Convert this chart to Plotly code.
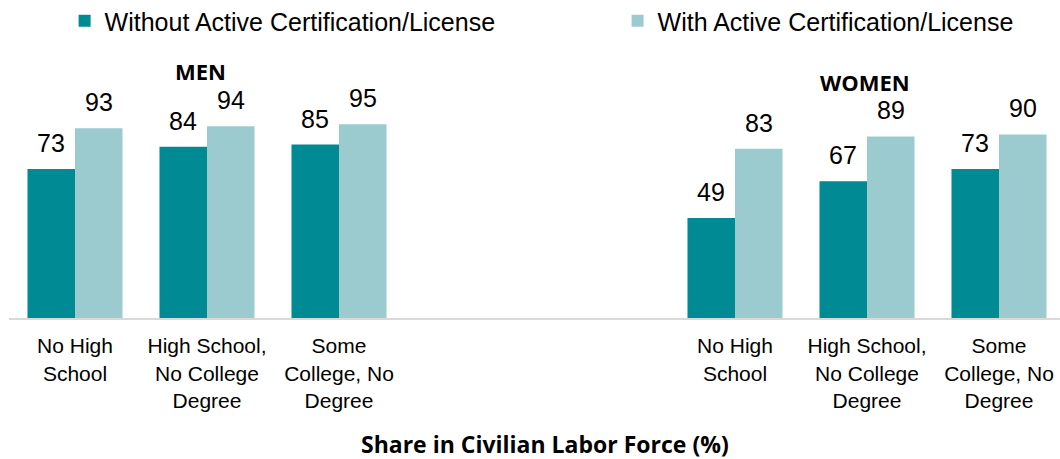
import plotly.graph_objects as go

positions = [0, 1, 2, 5, 6, 7]
tick_labels = ["No High<br>School", "High School,<br>No College<br>Degree", "Some<br>College, No<br>Degree",
               "No High<br>School", "High School,<br>No College<br>Degree", "Some<br>College, No<br>Degree"]
without_cert = [73, 84, 85, 49, 67, 73]
with_cert = [93, 94, 95, 83, 89, 90]
series_names = ["Without Active Certification/License", "With Active Certification/License"]
colors = ["#008A94", "#9BCBCF"]
legend_ids = ["legend", "legend2"]

W, H = 1060, 459
ml, mr, mt, mb = 9, 0, 114, 141
pw, ph = W - ml - mr, H - mt - mb

def px_x(x):
    return (x - ml) / pw

def px_y(y):
    return 1 - (y - mt) / ph

fig = go.Figure()
for name, vals, col, lg in zip(series_names, [without_cert, with_cert], colors, legend_ids):
    fig.add_trace(go.Bar(x=positions, y=vals, name=name, legend=lg,
                         marker=dict(color=col, line=dict(width=0))))

label_font = dict(family="Liberation Sans, Arial", size=25, color="#000000")
for vals, shift in [(without_cert, -24), (with_cert, 24)]:
    for x, v in zip(positions, vals):
        fig.add_annotation(x=x, y=v, text=str(v), showarrow=False, xshift=shift,
                           yanchor="bottom", yshift=10, font=label_font)

bold_font = dict(family="Open Sans", size=22, color="#000000")
fig.add_annotation(x=px_x(200), y=px_y(71), xref="paper", yref="paper", text="<b>MEN</b>",
                   showarrow=False, xanchor="center", yanchor="middle", font=bold_font)
fig.add_annotation(x=px_x(865), y=px_y(82), xref="paper", yref="paper", text="<b>WOMEN</b>",
                   showarrow=False, xanchor="center", yanchor="middle", font=bold_font)
fig.add_annotation(x=px_x(545), y=px_y(444), xref="paper", yref="paper",
                   text="<b>Share in Civilian Labor Force (%)</b>",
                   showarrow=False, xanchor="center", yanchor="middle",
                   font=dict(family="Open Sans", size=23, color="#000000"))

legend_common = dict(orientation="h", xref="container", yref="container",
                     xanchor="left", yanchor="middle", y=1 - 21 / H,
                     font=dict(size=25, family="Liberation Sans, Arial", color="#000000"),
                     bgcolor="rgba(0,0,0,0)")
fig.update_layout(
    width=W, height=H,
    margin=dict(l=ml, r=mr, t=mt, b=mb, pad=0, autoexpand=False),
    paper_bgcolor="white", plot_bgcolor="white",
    barmode="group", bargap=0.28, bargroupgap=0,
    font=dict(family="Liberation Sans, Arial", color="#000000"),
    showlegend=True,
    legend=dict(x=64.6 / W, **legend_common),
    legend2=dict(x=617.6 / W, **legend_common),
)
fig.update_xaxes(
    tickmode="array", tickvals=positions, ticktext=tick_labels,
    range=[-0.5, 7.5 - 5 / 132], automargin=False,
    showline=True, linecolor="#D9D9D9", linewidth=2,
    showgrid=False, zeroline=False, ticks="",
    tickfont=dict(size=21, family="Liberation Sans, Arial", color="#000000"),
    ticklabelstandoff=8,
)
fig.update_yaxes(range=[0, 100], visible=False, showgrid=False, zeroline=False)

fig.write_html("out.html", config={"displayModeBar": False},
               post_script="document.body.style.margin='0';")
